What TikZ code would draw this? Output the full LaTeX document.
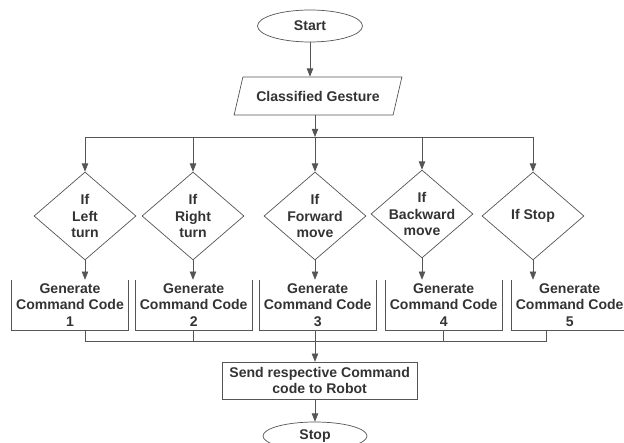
\documentclass[tikz,border=0pt]{standalone}
\usepackage{fontspec}
\setmainfont{Liberation Sans}
\usetikzlibrary{shapes.geometric,arrows.meta}
\definecolor{inkgray}{HTML}{333333}
\definecolor{linegray}{HTML}{555555}
\begin{document}
\begin{tikzpicture}[x=1cm,y=1cm,
  >={Triangle[length=7pt,width=5.5pt]},
  every node/.style={font=\fontsize{12}{14}\selectfont\bfseries, text=inkgray, align=center},
  flow/.style={draw=linegray, line width=0.6pt},
  terminal/.style={flow, ellipse, inner sep=0pt, minimum width=3.15cm, minimum height=0.96cm},
  decision/.style={flow, diamond, inner sep=0pt, minimum width=3.06cm, minimum height=2.64cm},
  gencode/.style={minimum width=3.5cm, minimum height=1.5cm, inner sep=0pt}]
\useasboundingbox (0,0) rectangle (18.72,-13.29);
\clip (0,0) rectangle (18.72,-13.29);
\node[terminal] (start) at (9.30,-0.78) {Start};
\node[flow, trapezium, trapezium left angle=55, trapezium right angle=125, trapezium stretches=true, minimum width=5.04cm, minimum height=1.14cm, inner sep=0pt] (gest) at (9.54,-2.88) {Classified Gesture};
\coordinate (split) at (9.45,-4.11);
\node[decision, label={[align=center]center:If\\Left\\turn}] (d1) at (2.55,-6.48) {};
\node[decision, label={[align=center]center:If\\Right\\turn}] (d2) at (5.79,-6.48) {};
\node[decision, label={[align=center]center:If\\Forward\\move}] (d3) at (9.45,-6.48) {};
\node[decision, label={[align=center]center:If\\Backward\\move}] (d4) at (12.66,-6.42) {};
\node[decision, label={[align=center]center:If Stop}] (d5) at (15.99,-6.48) {};
\node[gencode] (b1) at (2.10,-9.15) {Generate\\Command Code\\1};
\node[gencode] (b2) at (5.81,-9.15) {Generate\\Command Code\\2};
\node[gencode] (b3) at (9.53,-9.15) {Generate\\Command Code\\3};
\node[gencode] (b4) at (13.31,-9.15) {Generate\\Command Code\\4};
\node[gencode] (b5) at (17.09,-9.15) {Generate\\Command Code\\5};
\coordinate (join) at (9.45,-10.23);
\node[flow, rectangle, minimum width=5.85cm, minimum height=1.11cm, inner sep=0pt] (send) at (9.59,-11.42) {Send respective Command\\code to Robot};
\node[terminal, minimum width=3.12cm, minimum height=0.84cm] (stop) at (9.45,-13.08) {Stop};
% open boxes
\draw[flow] (b1.north west) -- (b1.south west) -- (b1.south east) -- (b1.north east);
\draw[flow] (b2.north west) -- (b2.south west) -- (b2.south east) -- (b2.north east);
\draw[flow] (b3.north west) -- (b3.south west) -- (b3.south east) -- (b3.north east);
\draw[flow] (b4.north west) -- (b4.south west) -- (b4.south east) -- (b4.north east);
\draw[flow] (b5.north west) -- (b5.south west) -- (b5.south east) -- (b5.north east);
% top part
\draw[flow, ->] (start) -- (start |- gest.north);
\draw[flow, ->] (gest.south -| split) -- (split);
\draw[flow] (d1 |- split) -- (d5 |- split);
\draw[flow, ->] (d1 |- split) -- (d1.north);
\draw[flow, ->] (d2 |- split) -- (d2.north);
\draw[flow, ->] (split) -- (d3.north);
\draw[flow, ->] (d4 |- split) -- (d4.north);
\draw[flow, ->] (d5 |- split) -- (d5.north);
% decisions to codes
\draw[flow, ->] (d1.south) -- (d1 |- b1.north);
\draw[flow, ->] (d2.south) -- (d2 |- b2.north);
\draw[flow, ->] (d3.south) -- (d3 |- b3.north);
\draw[flow, ->] (d4.south) -- (d4 |- b4.north);
\draw[flow, ->] (d5.south) -- (d5 |- b5.north);
% bottom part
\draw[flow] (d1 |- b1.south) -- (d1 |- join) -- ([xshift=-0.71cm]b5.south |- join) -- ([xshift=-0.71cm]b5.south);
\draw[flow] (b2.south) -- (b2 |- join);
\draw[flow] (b4.south) -- (b4 |- join);
\draw[flow, ->] (join |- b3.south) -- (join |- send.north);
\draw[flow, ->] (join |- send.south) -- (stop);
\end{tikzpicture}
\end{document}
